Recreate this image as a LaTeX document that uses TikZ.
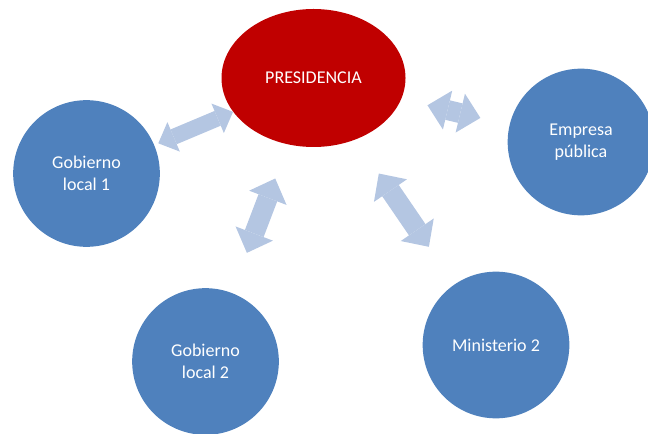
\documentclass[tikz,border=0pt]{standalone}
\usepackage{fontspec}
\setmainfont{Carlito}
\usetikzlibrary{arrows.meta}
\usetikzlibrary{shapes.geometric}

\definecolor{orgblue}{HTML}{4F81BD}
\definecolor{orgred}{HTML}{C00000}
\definecolor{linkblue}{HTML}{B4C6E2}

\begin{document}
\begin{tikzpicture}[x=0.75pt, y=-0.75pt,
    unit/.style={circle, fill=orgblue, minimum size=110pt, inner sep=0pt,
      text=white, align=center, font=\fontsize{13.5}{16.5}\selectfont},
    link/.style={draw=linkblue, line width=15pt, <->,
      >={Triangle[width=30pt, length=15.5pt, line width=0pt]}},
    small link/.style={link, line width=12pt,
      >={Triangle[width=24pt, length=12.5pt, line width=0pt]}}]

        \useasboundingbox (0,0) rectangle (648,434);
        \clip (0,0) rectangle (648,434);

        \node [ellipse, fill=orgred, minimum width=138pt, minimum height=103.5pt,
          inner sep=0pt, text=white, font=\fontsize{13.5}{16.5}\selectfont] (pres) at (313.5,78) {PRESIDENCIA};

        \node [unit] (gl1) at (86.5,173.5) {Gobierno\\local 1};
        \node [unit] (emp) at (581,142) {Empresa\\pública};
        \node [unit] (gl2) at (205.5,361.5) {Gobierno\\local 2};
        \node [unit] (min2) at (496,345) {Ministerio 2};

        \draw [small link, shorten <=3.2pt] (gl1) -- (pres);
        \draw [link, shorten <=22.4pt, shorten >=20.1pt] (emp) -- (pres);
        \draw [link, shorten <=32pt, shorten >=27.2pt] (gl2) -- (pres);
        \draw [link, shorten <=34pt, shorten >=30.8pt] (min2) -- (pres);

      \end{tikzpicture}
\end{document}
